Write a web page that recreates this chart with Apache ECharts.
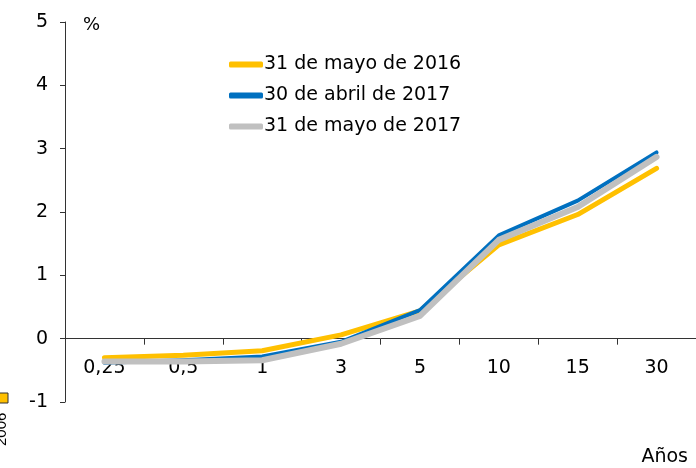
<!DOCTYPE html>
<html>
<head>
<meta charset="utf-8">
<script src="https://cdn.jsdelivr.net/npm/echarts@6/dist/echarts.min.js"></script>
<style>
  html, body { margin: 0; padding: 0; background: #fff; }
  #chart { width: 696px; height: 468px; }
</style>
</head>
<body>
<div id="chart"></div>
<script>
// ── datos ────────────────────────────────────────────────
const plazos = ['0,25', '0,5', '1', '3', '5', '10', '15', '30']
const may2016 = [-0.30, -0.26, -0.19, 0.06, 0.44, 1.48, 1.96, 2.69]
const abr2017 = [-0.38, -0.34, -0.28, -0.05, 0.45, 1.63, 2.18, 2.94]
const may2017 = [-0.36, -0.36, -0.34, -0.08, 0.36, 1.56, 2.08, 2.87]
const yTicks = [-1, 0, 1, 2, 3, 4, 5]

const FONT = 'DejaVu Sans'
const GRID_TOP = 22, GRID_BOTTOM = 66
// el eje X va en y = 0: se desplaza una unidad hacia arriba desde el fondo
const unitPx = (468 - GRID_TOP - GRID_BOTTOM) / (yTicks[yTicks.length - 1] - yTicks[0])

const chart = echarts.init(document.getElementById('chart'), null, { renderer: 'canvas' })

function serie(name, data, color, width, z) {
  return {
    name, type: 'line', data, z,
    symbol: 'none',
    lineStyle: { color, width, cap: 'round', join: 'round' },
    itemStyle: { color },
  }
}

chart.setOption({
  backgroundColor: '#fff',
  animation: false,
  textStyle: { fontFamily: FONT },
  grid: { left: 65, right: -1, top: GRID_TOP, bottom: GRID_BOTTOM },
  legend: {
    orient: 'vertical',
    left: 224, top: 50,
    itemGap: 12,
    itemWidth: 34, itemHeight: 6,
    icon: 'roundRect',
    textStyle: { color: '#000', fontSize: 19, fontFamily: FONT, padding: [0, 0, 0, -4] },
    data: ['31 de mayo de 2016', '30 de abril de 2017', '31 de mayo de 2017'],
  },
  xAxis: {
    type: 'category',
    data: plazos,
    boundaryGap: true,
    position: 'bottom',
    offset: -unitPx * (0 - yTicks[0]),
    axisLine: { onZero: false, lineStyle: { color: '#333', width: 1 } },
    axisTick: { show: true, length: 6, inside: false, lineStyle: { color: '#333' } },
    axisLabel: { color: '#000', fontSize: 19, margin: 20, fontFamily: FONT },
    splitLine: { show: false },
  },
  yAxis: {
    type: 'value',
    min: yTicks[0], max: yTicks[yTicks.length - 1], interval: 1,
    axisLine: { show: true, lineStyle: { color: '#333', width: 1 } },
    axisTick: { show: true, length: 5, lineStyle: { color: '#333' } },
    axisLabel: { color: '#000', fontSize: 19, margin: 17, fontFamily: FONT },
    splitLine: { show: false },
  },
  series: [
    serie('31 de mayo de 2016', may2016, '#FFC000', 5, 2),
    serie('30 de abril de 2017', abr2017, '#0070C0', 4, 3),
    serie('31 de mayo de 2017', may2017, '#C0C0C0', 6, 4),
  ],
  graphic: [
    { type: 'text', left: 83, top: 16, style: { text: '%', fontSize: 18, fill: '#000', fontFamily: FONT } },
    { type: 'text', right: 8, top: 448, style: { text: 'Años', fontSize: 19, fill: '#000', fontFamily: FONT } },
    { type: 'rect', shape: { x: -2, y: 393, width: 10, height: 10 }, style: { fill: '#FFC000', stroke: '#333', lineWidth: 1 } },
    { type: 'text', x: -6, y: 446, rotation: Math.PI / 2, style: { text: '2006', fontSize: 15, fill: '#000', fontFamily: 'Liberation Sans' } },
  ],
})
</script>
</body>
</html>
